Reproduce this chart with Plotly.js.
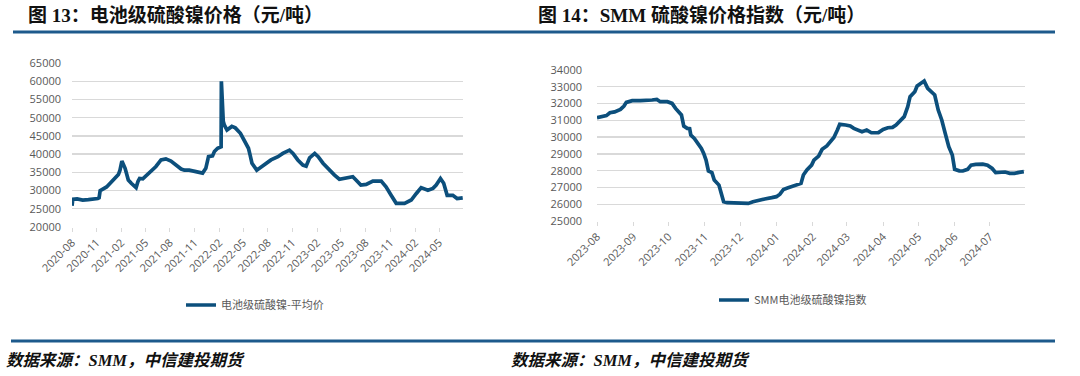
<!DOCTYPE html>
<html>
<head>
<meta charset="utf-8">
<script src="https://cdn.plot.ly/plotly-3.0.1.min.js"></script>
<style>html,body{margin:0;padding:0;background:#fff;}#chart{width:1080px;height:376px;}</style>
</head>
<body>
<div id="chart"></div>
<script>
// ---- Figure 13: 电池级硫酸镍-平均价 (元/吨)
const leftDates = ["2020-08-01","2020-08-04","2020-08-20","2020-09-10","2020-10-01","2020-10-20","2020-11-05","2020-11-10","2020-11-14","2020-12-08","2021-01-03","2021-01-21","2021-01-27","2021-02-03","2021-02-15","2021-02-27","2021-03-10","2021-03-28","2021-04-04","2021-04-10","2021-04-22","2021-05-04","2021-05-22","2021-06-10","2021-06-29","2021-07-17","2021-08-05","2021-08-23","2021-09-12","2021-09-24","2021-10-12","2021-11-06","2021-11-25","2021-12-01","2021-12-13","2021-12-23","2022-01-07","2022-01-14","2022-01-26","2022-02-08","2022-02-09","2022-02-12","2022-02-16","2022-02-20","2022-03-02","2022-03-20","2022-04-02","2022-04-21","2022-05-09","2022-05-21","2022-05-27","2022-06-03","2022-06-21","2022-07-04","2022-07-22","2022-08-13","2022-09-08","2022-09-26","2022-10-21","2022-11-03","2022-11-21","2022-12-10","2022-12-22","2023-01-04","2023-01-23","2023-02-05","2023-02-23","2023-03-18","2023-04-06","2023-04-25","2023-05-19","2023-06-14","2023-06-26","2023-07-14","2023-08-03","2023-08-28","2023-09-28","2023-10-16","2023-11-04","2023-11-23","2023-12-24","2024-01-18","2024-02-06","2024-02-24","2024-03-20","2024-04-08","2024-04-20","2024-05-06","2024-05-18","2024-05-31","2024-06-21","2024-07-07","2024-07-28"];
const leftValues = [25800,27600,27700,27400,27500,27600,27800,28000,30000,31000,32900,34400,35600,38100,36100,32900,32000,30800,32500,33300,33200,34100,35200,36600,38400,38700,38100,37000,35900,35600,35600,35200,34700,34800,36100,39300,39500,40700,41600,42000,60000,52000,49000,48000,46600,47600,47200,45700,43400,41600,39800,37500,35600,36300,37500,38400,39300,40200,41100,40200,38400,37000,36700,39000,40200,39300,37500,35600,34300,33100,33400,33800,32900,31500,31700,32600,32600,31000,28700,26500,26500,27400,29200,30800,30100,30600,31500,33300,32000,28700,28700,27800,28000];
const leftName = "电池级硫酸镍-平均价";

// ---- Figure 14: SMM电池级硫酸镍指数 (元/吨)
const rightDates = ["2023-08-01","2023-08-05","2023-08-09","2023-08-12","2023-08-16","2023-08-21","2023-08-24","2023-08-26","2023-08-31","2023-09-07","2023-09-12","2023-09-17","2023-09-21","2023-09-24","2023-09-30","2023-10-04","2023-10-07","2023-10-10","2023-10-12","2023-10-14","2023-10-17","2023-10-19","2023-10-20","2023-10-23","2023-10-26","2023-10-29","2023-10-31","2023-11-02","2023-11-04","2023-11-07","2023-11-09","2023-11-13","2023-11-15","2023-11-17","2023-11-20","2023-11-30","2023-12-08","2023-12-12","2023-12-17","2023-12-22","2023-12-28","2024-01-01","2024-01-04","2024-01-07","2024-01-11","2024-01-15","2024-01-19","2024-01-22","2024-01-24","2024-01-27","2024-01-31","2024-02-02","2024-02-06","2024-02-09","2024-02-13","2024-02-16","2024-02-19","2024-02-22","2024-02-24","2024-02-29","2024-03-04","2024-03-07","2024-03-11","2024-03-14","2024-03-18","2024-03-22","2024-03-28","2024-04-01","2024-04-05","2024-04-09","2024-04-12","2024-04-16","2024-04-19","2024-04-22","2024-04-24","2024-04-28","2024-04-30","2024-05-03","2024-05-06","2024-05-09","2024-05-13","2024-05-15","2024-05-18","2024-05-21","2024-05-24","2024-05-27","2024-05-30","2024-06-01","2024-06-05","2024-06-08","2024-06-12","2024-06-15","2024-06-19","2024-06-25","2024-06-29","2024-07-03","2024-07-06","2024-07-10","2024-07-14","2024-07-18","2024-07-22","2024-07-26","2024-07-30"];
const rightValues = [31160,31220,31280,31450,31500,31650,31850,32070,32170,32170,32170,32210,32250,32110,32110,32010,31710,31450,31320,30660,30520,30500,30120,29920,29660,29330,29030,28630,27980,27880,27440,27140,26640,26150,26090,26050,26050,26150,26250,26310,26390,26450,26600,26880,26980,27080,27180,27240,27740,28040,28330,28630,28870,29270,29470,29730,29980,30420,30760,30720,30660,30520,30420,30320,30420,30260,30270,30460,30560,30580,30720,30980,31220,31810,32410,32710,33050,33200,33340,32910,32650,32510,31610,31020,30220,29430,28930,28080,27990,27980,28080,28330,28370,28390,28330,28130,27880,27880,27920,27840,27840,27900,27940];
const rightName = "SMM电池级硫酸镍指数";

const leftTitle = "图 13：电池级硫酸镍价格（元/吨）";
const rightTitle = "图 14：SMM 硫酸镍价格指数（元/吨）";
const sourceText = "数据来源：SMM，中信建投期货";

const W = 1080, H = 376;
const px = v => v / W;
const py = v => 1 - v / H;

const lineColor = "#0c4f7c";
const ruleColor = "#1d5a8c";
const gridColor = "#d9d9d9";
const tickFont = {family: "Open Sans, Noto Sans CJK SC, sans-serif", size: 11, color: "#595959"};
const titleFont = {family: "Liberation Serif, Noto Sans CJK SC, serif", size: 19, color: "#111111"};
const srcFont = {family: "Liberation Serif, Noto Sans CJK SC, serif", size: 16.5, color: "#111111"};

const traces = [
  {x: leftDates, y: leftValues, name: leftName, type: "scatter", mode: "lines",
   line: {color: lineColor, width: 3.7}, xaxis: "x", yaxis: "y", legend: "legend", hoverinfo: "x+y"},
  {x: rightDates, y: rightValues, name: rightName, type: "scatter", mode: "lines",
   line: {color: lineColor, width: 3.7}, xaxis: "x2", yaxis: "y2", legend: "legend2", hoverinfo: "x+y"}
];

const xBase = {type: "date", tickformat: "%Y-%m", tickangle: -45, tickfont: tickFont,
  showgrid: false, zeroline: false, showline: false, ticks: "outside", ticklen: 4, tickcolor: gridColor, tickwidth: 1};
const yBase = {tickfont: tickFont, showgrid: true, gridcolor: gridColor, gridwidth: 1.3,
  zeroline: false, showline: false, ticks: "", tickformat: "d"};

const layout = {
  width: W, height: H,
  margin: {l: 0, r: 0, t: 0, b: 0},
  paper_bgcolor: "#ffffff", plot_bgcolor: "#ffffff",
  showlegend: true,
  xaxis: Object.assign({}, xBase, {domain: [px(72), px(463)], anchor: "y",
    range: ["2020-08-01", "2024-07-29"], tick0: "2020-08-01", dtick: "M3"}),
  yaxis: Object.assign({}, yBase, {domain: [py(227), py(63)], anchor: "x",
    range: [20000, 65000], dtick: 5000, ticklabelstandoff: 10}),
  xaxis2: Object.assign({}, xBase, {domain: [px(597), px(1025)], anchor: "y2",
    range: ["2023-08-01", "2024-07-31"], tick0: "2023-08-01", dtick: "M1"}),
  yaxis2: Object.assign({}, yBase, {domain: [py(221), py(70)], anchor: "x2",
    range: [25000, 34000], dtick: 1000, ticklabelstandoff: 14}),
  legend: {x: px(181), y: py(305), xanchor: "left", yanchor: "middle", orientation: "h",
    font: {family: "Noto Sans CJK SC, sans-serif", size: 11, color: "#595959"}, bgcolor: "rgba(0,0,0,0)"},
  legend2: {x: px(714), y: py(300), xanchor: "left", yanchor: "middle", orientation: "h",
    font: {family: "Noto Sans CJK SC, sans-serif", size: 11, color: "#595959"}, bgcolor: "rgba(0,0,0,0)"},
  shapes: [
    {type: "line", xref: "paper", yref: "paper", x0: px(13), x1: px(1055), y0: py(32), y1: py(32),
     line: {color: ruleColor, width: 3}},
    {type: "line", xref: "paper", yref: "paper", x0: px(11), x1: px(1055), y0: py(341), y1: py(341),
     line: {color: ruleColor, width: 3}}
  ],
  annotations: [
    {text: "<b>" + leftTitle + "</b>", xref: "paper", yref: "paper", x: px(26), y: py(15),
     xanchor: "left", yanchor: "middle", showarrow: false, font: titleFont},
    {text: "<b>" + rightTitle + "</b>", xref: "paper", yref: "paper", x: px(536), y: py(15),
     xanchor: "left", yanchor: "middle", showarrow: false, font: titleFont},
    {text: "<b><i>" + sourceText + "</i></b>", xref: "paper", yref: "paper", x: px(4), y: py(360),
     xanchor: "left", yanchor: "middle", showarrow: false, font: srcFont},
    {text: "<b><i>" + sourceText + "</i></b>", xref: "paper", yref: "paper", x: px(509), y: py(360),
     xanchor: "left", yanchor: "middle", showarrow: false, font: srcFont}
  ]
};

Plotly.newPlot("chart", traces, layout, {staticPlot: true, displayModeBar: false});
</script>
</body>
</html>
